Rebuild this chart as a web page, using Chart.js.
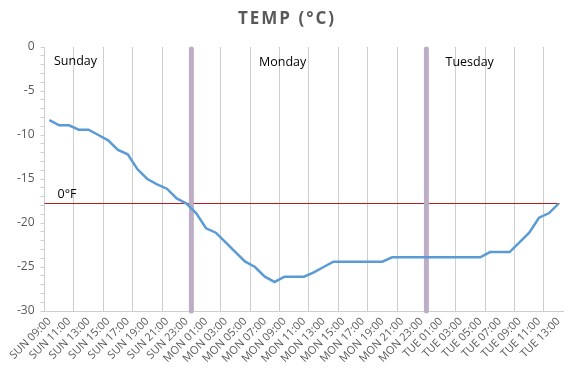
<!DOCTYPE html>
<html>
<head>
<meta charset="utf-8">
<script src="https://cdn.jsdelivr.net/npm/chart.js@4.4.1/dist/chart.umd.min.js"></script>
<style>
  html, body { margin: 0; padding: 0; background: #fff; }
  #wrap { width: 572px; height: 376px; }
</style>
</head>
<body>
<div id="wrap"><canvas id="graficoTemp"></canvas></div>
<script>
// hourly readings, SUN 09:00 .. TUE 13:00
const dias = ['SUN', 'MON', 'TUE'];
const horaInicio = 9;
const temperaturas = [
  -8.3, -8.9, -8.9, -9.4, -9.4, -10.0, -10.6, -11.7, -12.2, -13.9,
  -15.0, -15.6, -16.1, -17.2, -17.8, -18.9, -20.6, -21.1, -22.2, -23.3,
  -24.4, -25.0, -26.1, -26.7, -26.1, -26.1, -26.1, -25.6, -25.0, -24.4,
  -24.4, -24.4, -24.4, -24.4, -24.4, -23.9, -23.9, -23.9, -23.9, -23.9,
  -23.9, -23.9, -23.9, -23.9, -23.9, -23.3, -23.3, -23.3, -22.2, -21.1,
  -19.4, -18.9, -17.8
];
const cambiosDia = ['MON 00:00', 'TUE 00:00'];
const nombresDia = ['Sunday', 'Monday', 'Tuesday'];
const ceroF = -17.78;

const etiquetas = [];
for (let i = 0; i < temperaturas.length; i++) {
  const h = horaInicio + i;
  const d = dias[Math.floor(h / 24)];
  etiquetas.push(d + ' ' + String(h % 24).padStart(2, '0') + ':00');
}

const gris = '#ccd0cc';
const textoGris = '#595959';

const extras = {
  id: 'extras',
  beforeDatasetsDraw(chart) {
    const { ctx, chartArea: a, scales: { x, y } } = chart;
    ctx.save();
    // 0°F reference
    const y0 = Math.round(y.getPixelForValue(ceroF)) + 0.5;
    ctx.strokeStyle = '#b81c22';
    ctx.lineWidth = 1;
    ctx.beginPath();
    ctx.moveTo(a.left, y0);
    ctx.lineTo(a.right - 4, y0);
    ctx.stroke();
    // day separators
    ctx.strokeStyle = '#bdaec6';
    ctx.lineWidth = 5;
    ctx.lineCap = 'round';
    cambiosDia.forEach(lbl => {
      const i = etiquetas.indexOf(lbl);
      const px = (x.getPixelForValue(i - 1) + x.getPixelForValue(i)) / 2;
      ctx.beginPath();
      ctx.moveTo(px, a.top + 2);
      ctx.lineTo(px, a.bottom);
      ctx.stroke();
    });
    // texts
    ctx.fillStyle = '#000';
    ctx.font = '12.5px "Open Sans"';
    ctx.textBaseline = 'middle';
    ctx.textAlign = 'left';
    ctx.fillText(nombresDia[0], a.left + 9.5, a.top + 14);
    ctx.fillText(nombresDia[1], a.left + 214.5, a.top + 15);
    ctx.fillText(nombresDia[2], a.left + 401, a.top + 15);
    ctx.fillText('0°F', a.left + 13, y0 - 9);
    ctx.restore();
  },
  afterDraw(chart) {
    const { ctx } = chart;
    ctx.save();
    ctx.fillStyle = textoGris;
    ctx.font = 'bold 17px "Open Sans"';
    ctx.letterSpacing = '2px';
    ctx.textAlign = 'center';
    ctx.textBaseline = 'middle';
    ctx.fillText('TEMP (°C)', chart.width / 2 + 1, 19);
    ctx.restore();
  }
};

const chartTemp = new Chart(document.getElementById('graficoTemp').getContext('2d'), {
  type: 'line',
  data: {
    labels: etiquetas,
    datasets: [{
      label: 'TEMP (°C)',
      data: temperaturas,
      borderColor: '#5b9bd5',
      borderWidth: 2.5,
      pointRadius: 0,
      tension: 0,
      fill: false
    }]
  },
  options: {
    responsive: true,
    maintainAspectRatio: false,
    animation: false,
    layout: { padding: { top: 47, right: 7.5, left: 0, bottom: 0 } },
    plugins: {
      legend: { display: false },
      title: { display: false },
      tooltip: { enabled: false }
    },
    scales: {
      x: {
        offset: true,
        afterFit: s => { s.height = 65; },
        grid: {
          offset: true,
          drawTicks: false,
          color: c => (c.index % 3 === 0 ? gris : 'rgba(0,0,0,0)'),
          lineWidth: 1
        },
        border: { display: true, color: gris },
        ticks: {
          autoSkip: false,
          maxRotation: 45,
          minRotation: 45,
          padding: 4,
          color: textoGris,
          font: { family: 'Open Sans', size: 11 },
          callback: function (v, i) { return i % 2 === 0 ? this.getLabelForValue(v) : ''; }
        }
      },
      y: {
        min: -30,
        max: 0,
        afterFit: s => { s.width = 44.5; },
        grid: {
          drawOnChartArea: false,
          drawTicks: true,
          tickLength: 4,
          color: gris
        },
        border: { display: true, color: gris },
        ticks: {
          stepSize: 1,
          autoSkip: false,
          padding: 6,
          color: textoGris,
          font: { family: 'Open Sans', size: 12 },
          callback: v => (v % 5 === 0 ? v : '')
        }
      }
    }
  },
  plugins: [extras]
});
</script>
</body>
</html>
